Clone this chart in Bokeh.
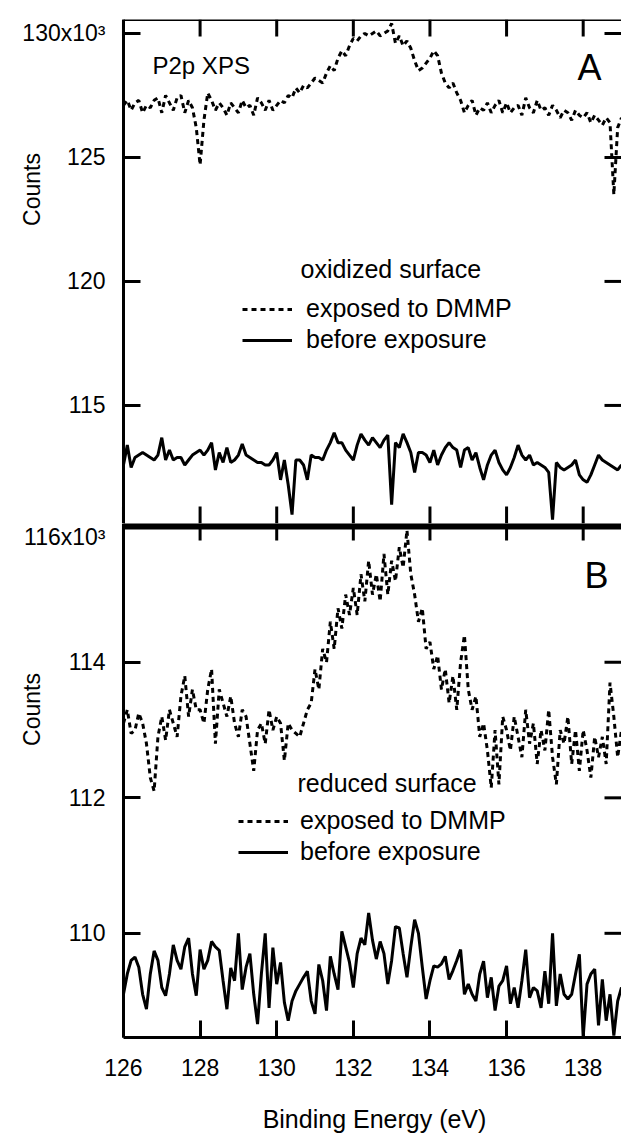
import math
from bokeh.plotting import figure
from bokeh.layouts import column
from bokeh.models import Range1d, LinearAxis, FixedTicker, Label, Legend, LegendItem
from bokeh.embed import file_html
from bokeh.resources import INLINE

FONT = "Liberation Sans"

# Binding energy grid (eV)
energy = [round(126.0 + 0.1 * i, 1) for i in range(131)]

# Panel A: oxidized surface (counts x10^3)
a_dmmp = [
    127.1, 127.3, 126.9, 127.2, 127.3, 126.8, 127.1, 127.0, 127.3, 127.4,
    126.8, 127.5, 127.2, 126.9, 127.4, 127.5, 126.8, 127.3, 127.0, 126.2,
    124.7, 126.5, 127.6, 127.3, 126.9, 127.2, 127.0, 126.7, 127.2, 127.0,
    126.8, 127.3, 127.0, 127.1, 126.7, 127.4, 127.2, 126.9, 127.3, 126.9,
    127.1, 127.3, 127.2, 127.5, 127.4, 127.8, 127.6, 127.9, 127.8, 128.0,
    128.2, 128.1, 128.0, 128.4, 128.7, 128.5, 129.0, 129.3, 129.1, 129.5,
    129.8, 129.7, 129.9, 130.0, 129.9, 130.0, 130.1, 129.9, 130.0, 130.1,
    130.4, 129.6, 129.9, 129.5, 129.7, 129.4, 128.9, 128.5, 128.6, 128.8,
    129.0, 129.3, 129.1, 128.4, 128.0, 127.8, 128.0, 127.6, 127.3, 126.8,
    127.1, 127.3, 126.7, 127.0, 126.9, 127.2, 126.8, 127.1, 127.3, 126.8,
    127.2, 126.8, 127.0, 127.1, 126.7, 127.4, 127.0, 126.8, 127.3, 126.9,
    127.0, 126.7, 127.1, 126.9, 126.6, 126.9, 126.8, 126.5, 126.9, 126.7,
    126.6, 126.8, 126.4, 126.7, 126.5, 126.3, 126.6, 126.4, 123.5, 126.2,
    126.6,
]
a_before = [
    112.6, 113.4, 112.5, 112.9, 113.0, 113.1, 113.0, 112.9, 112.8, 113.0,
    113.7, 112.8, 113.2, 112.8, 112.9, 112.9, 112.6, 112.8, 113.0, 113.1,
    113.2, 113.0, 113.2, 113.5, 112.4, 113.1, 112.7, 113.3, 112.7, 112.8,
    113.0, 113.45, 113.0, 112.9, 112.8, 112.7, 112.7, 112.6, 112.6, 112.8,
    113.1, 112.0, 112.8, 111.8, 110.6, 112.8, 112.8, 112.6, 112.0, 113.0,
    112.9, 112.9, 112.8, 113.2, 113.5, 113.9, 113.5, 113.5, 113.2, 113.0,
    112.8, 113.4, 113.85, 113.6, 113.4, 113.7, 113.5, 113.3, 113.6, 113.8,
    111.0, 113.5, 113.3, 113.85, 113.5, 113.1, 112.3, 113.1, 113.1, 113.0,
    112.7, 113.2, 112.6, 113.0, 113.3, 113.5, 113.3, 113.2, 112.5, 113.2,
    113.3, 112.8, 113.1, 112.5, 112.0, 112.6, 113.0, 113.2, 112.7, 112.4,
    112.2, 112.5, 112.9, 113.4, 113.0, 112.8, 113.0, 112.6, 112.7, 112.6,
    112.5, 112.3, 110.4, 112.7, 112.5, 112.4, 112.5, 112.6, 112.8, 112.2,
    112.0, 111.9, 112.2, 112.6, 113.0, 112.8, 112.7, 112.6, 112.5, 112.4,
    112.6,
]

# Panel B: reduced surface (counts x10^3)
b_dmmp = [
    113.1, 113.3, 112.95, 113.0, 113.25, 113.1, 112.8, 112.3, 112.1, 112.9,
    113.2, 112.85, 113.3, 113.1, 112.9, 113.5, 113.8, 113.2, 113.6, 113.3,
    113.3, 113.1, 113.6, 113.9, 112.8, 113.6, 113.4, 113.2, 113.5, 113.1,
    112.9, 113.3, 113.2, 112.8, 112.4, 113.0, 113.1, 112.8, 113.3, 113.0,
    113.2, 113.1, 112.55, 113.1, 113.0, 112.95, 112.9, 113.1, 113.3, 113.4,
    113.9, 113.6, 114.2, 114.0, 114.6, 114.2, 114.8, 114.5, 115.0, 114.7,
    115.1, 114.7, 115.3, 114.9, 115.5, 115.0, 115.3, 114.9, 115.6, 115.0,
    115.5, 115.2, 115.7, 115.4, 115.95, 115.3, 115.0, 114.6, 114.8, 114.2,
    114.3, 113.9, 114.1, 113.6, 113.9, 113.4, 113.8, 113.3, 114.0, 114.4,
    113.6, 113.3, 113.5, 112.9, 113.1, 112.7, 112.15, 113.0, 112.2, 113.2,
    113.0, 112.7, 113.2, 112.9, 112.6, 113.3, 112.8, 113.1, 112.5, 113.0,
    112.7, 113.3, 112.6, 112.2, 113.0, 112.8, 113.2, 112.5, 113.0, 112.4,
    113.0, 112.7, 112.3, 112.9, 112.6, 112.9, 112.5, 113.7, 113.2, 112.6,
    113.0,
]
b_before = [
    109.1, 109.4, 109.6, 109.65, 109.5, 109.1, 108.88, 109.4, 109.74, 109.6,
    109.2, 109.08, 109.4, 109.83, 109.6, 109.47, 109.8, 109.93, 109.4, 109.08,
    109.76, 109.47, 109.6, 109.88, 109.8, 109.75, 109.3, 108.88, 109.49, 109.3,
    110.0, 109.17, 109.5, 109.7, 109.1, 108.66, 109.4, 110.0, 108.9, 109.79,
    109.25, 109.57, 108.98, 108.71, 109.0, 109.15, 109.25, 109.35, 109.44, 109.0,
    108.81, 109.54, 109.3, 108.86, 109.66, 109.4, 109.17, 110.03, 109.8, 109.57,
    109.2, 109.7, 109.93, 109.83, 110.3, 109.9, 109.62, 109.88, 109.7, 109.25,
    109.6, 110.1, 110.08, 109.7, 109.35, 109.8, 110.2, 110.0, 109.5, 109.03,
    109.3, 109.52, 109.5, 109.55, 109.66, 109.32, 109.45, 109.6, 109.76, 109.1,
    109.25, 109.1, 109.0, 109.4, 109.59, 109.05, 109.35, 108.86, 109.22, 109.3,
    109.52, 108.96, 109.2, 108.9, 109.3, 109.76, 109.05, 109.2, 109.15, 108.9,
    109.44, 108.96, 110.0, 108.93, 109.4, 109.1, 109.03, 109.1, 109.4, 109.69,
    108.47, 109.25, 109.4, 109.47, 108.64, 109.32, 108.71, 109.1, 108.49, 109.0,
    109.2,
]

x_ticks = [126, 128, 130, 132, 134, 136, 138]
a_ticks = [115, 120, 125, 130]
b_ticks = [110, 112, 114, 116]
a_tick_labels = {130: "130x10\u00b3"}
b_tick_labels = {116: "116x10\u00b3"}

X_START, X_END = 126, 139
A_LO, A_HI = 110.24, 130.56
B_LO, B_HI = 108.46, 116.05
# view limits: the frames fill the window, the axes sit at fixed data positions
X_VIEW_START = 122.79
B_VIEW_LO = 107.03

TICK = 17
LW = 3


def style(ax):
    ax.major_tick_in = TICK
    ax.major_tick_out = 0
    ax.minor_tick_in = 0
    ax.minor_tick_out = 0
    ax.axis_line_width = LW
    ax.major_tick_line_width = LW
    ax.axis_line_color = "black"
    ax.major_tick_line_color = "black"
    ax.major_label_text_font = FONT
    ax.major_label_text_font_size = "23px"
    ax.major_label_text_color = "black"
    return ax


def border(loc, width=LW):
    # plain axis line (no ticks) at a fixed location
    ax = LinearAxis(ticker=FixedTicker(ticks=[]), fixed_location=loc,
                    bounds=(X_START, X_END))
    ax.axis_line_width = width
    ax.axis_line_color = "black"
    ax.major_tick_line_color = None
    ax.minor_tick_line_color = None
    return ax


def base_fig(height, yr, top):
    p = figure(width=621, height=height, x_range=Range1d(X_VIEW_START, X_END),
               y_range=yr, output_backend="svg", toolbar_location=None,
               x_axis_location=None, y_axis_location=None,
               min_border_left=0, min_border_right=0,
               min_border_top=top, min_border_bottom=0)
    p.grid.visible = False
    p.outline_line_color = None
    p.background_fill_color = "white"
    return p


def ray(p, x, y, angle):
    p.ray(x=x, y=y, length=TICK, length_units="screen", angle=angle,
          line_color="black", line_width=LW)


def txt(p, x, y, text, size="25px", angle=0, align="left"):
    p.add_layout(Label(x=x, y=y, x_units="screen", y_units="screen", text=text,
                       text_font=FONT, text_font_size=size, text_color="black",
                       angle=angle, angle_units="deg", text_align=align,
                       text_baseline="middle"))


def legend(p, r1, r2, loc, standoff):
    p.add_layout(Legend(items=[LegendItem(label="exposed to DMMP", renderers=[r1]),
                               LegendItem(label="before exposure", renderers=[r2])],
                        location=loc, padding=0, margin=0, spacing=2,
                        glyph_width=50, glyph_height=28, label_height=28,
                        label_standoff=standoff, label_text_font=FONT,
                        label_text_font_size="25px", label_text_color="black",
                        border_line_color=None, background_fill_alpha=0))


n = len(x_ticks)

# ---------------- Panel A ----------------
pA = base_fig(523, Range1d(A_LO, A_HI), 19)
leftA = style(LinearAxis(ticker=FixedTicker(ticks=a_ticks), fixed_location=X_START))
leftA.major_label_standoff = 18
leftA.major_label_overrides = a_tick_labels
pA.add_layout(leftA, "left")
pA.add_layout(border(A_HI), "above")
ray(pA, x_ticks, [A_HI] * n, -math.pi / 2)
ray(pA, x_ticks, [A_LO] * n, math.pi / 2)
ray(pA, [X_END] * len(a_ticks), a_ticks, math.pi)

a1 = pA.line(energy, a_dmmp, line_color="black", line_width=LW, line_dash="5 4")
a2 = pA.line(energy, a_before, line_color="black", line_width=LW)
legend(pA, a1, a2, (242, 169), 14)

txt(pA, 300, 255, "oxidized surface")
txt(pA, 152, 458, "P2p XPS", size="24px")
txt(pA, 589, 456, "A", size="36px", align="center")
txt(pA, 31, 334, "Counts", size="23px", angle=90, align="center")

# ---------------- Panel B ----------------
pB = base_fig(611, Range1d(B_VIEW_LO, B_HI), 0)
leftB = style(LinearAxis(ticker=FixedTicker(ticks=b_ticks), fixed_location=X_START,
                         bounds=(B_LO, B_HI)))
leftB.major_label_standoff = 18
leftB.major_label_overrides = b_tick_labels
pB.add_layout(leftB, "left")
# thick shared boundary between the two panels
pB.add_layout(border(B_HI, 12), "above")
xb = style(LinearAxis(ticker=FixedTicker(ticks=x_ticks), fixed_location=B_LO,
                      bounds=(X_START, X_END)))
xb.major_label_standoff = 21
pB.add_layout(xb, "below")
ray(pB, x_ticks, [B_HI] * n, -math.pi / 2)
ray(pB, [X_END] * len(b_ticks), b_ticks, math.pi)

b1 = pB.line(energy, b_dmmp, line_color="black", line_width=LW, line_dash="5 4")
b2 = pB.line(energy, b_before, line_color="black", line_width=LW)
legend(pB, b1, b2, (238, 268), 12)

txt(pB, 297, 352, "reduced surface")
txt(pB, 596, 559, "B", size="36px", align="center")
txt(pB, 31, 425, "Counts", size="23px", angle=90, align="center")
txt(pB, 374, 16, "Binding Energy (eV)", align="center")

layout = column(pA, pB, spacing=0)
open("out.html", "w").write(file_html(layout, INLINE))
